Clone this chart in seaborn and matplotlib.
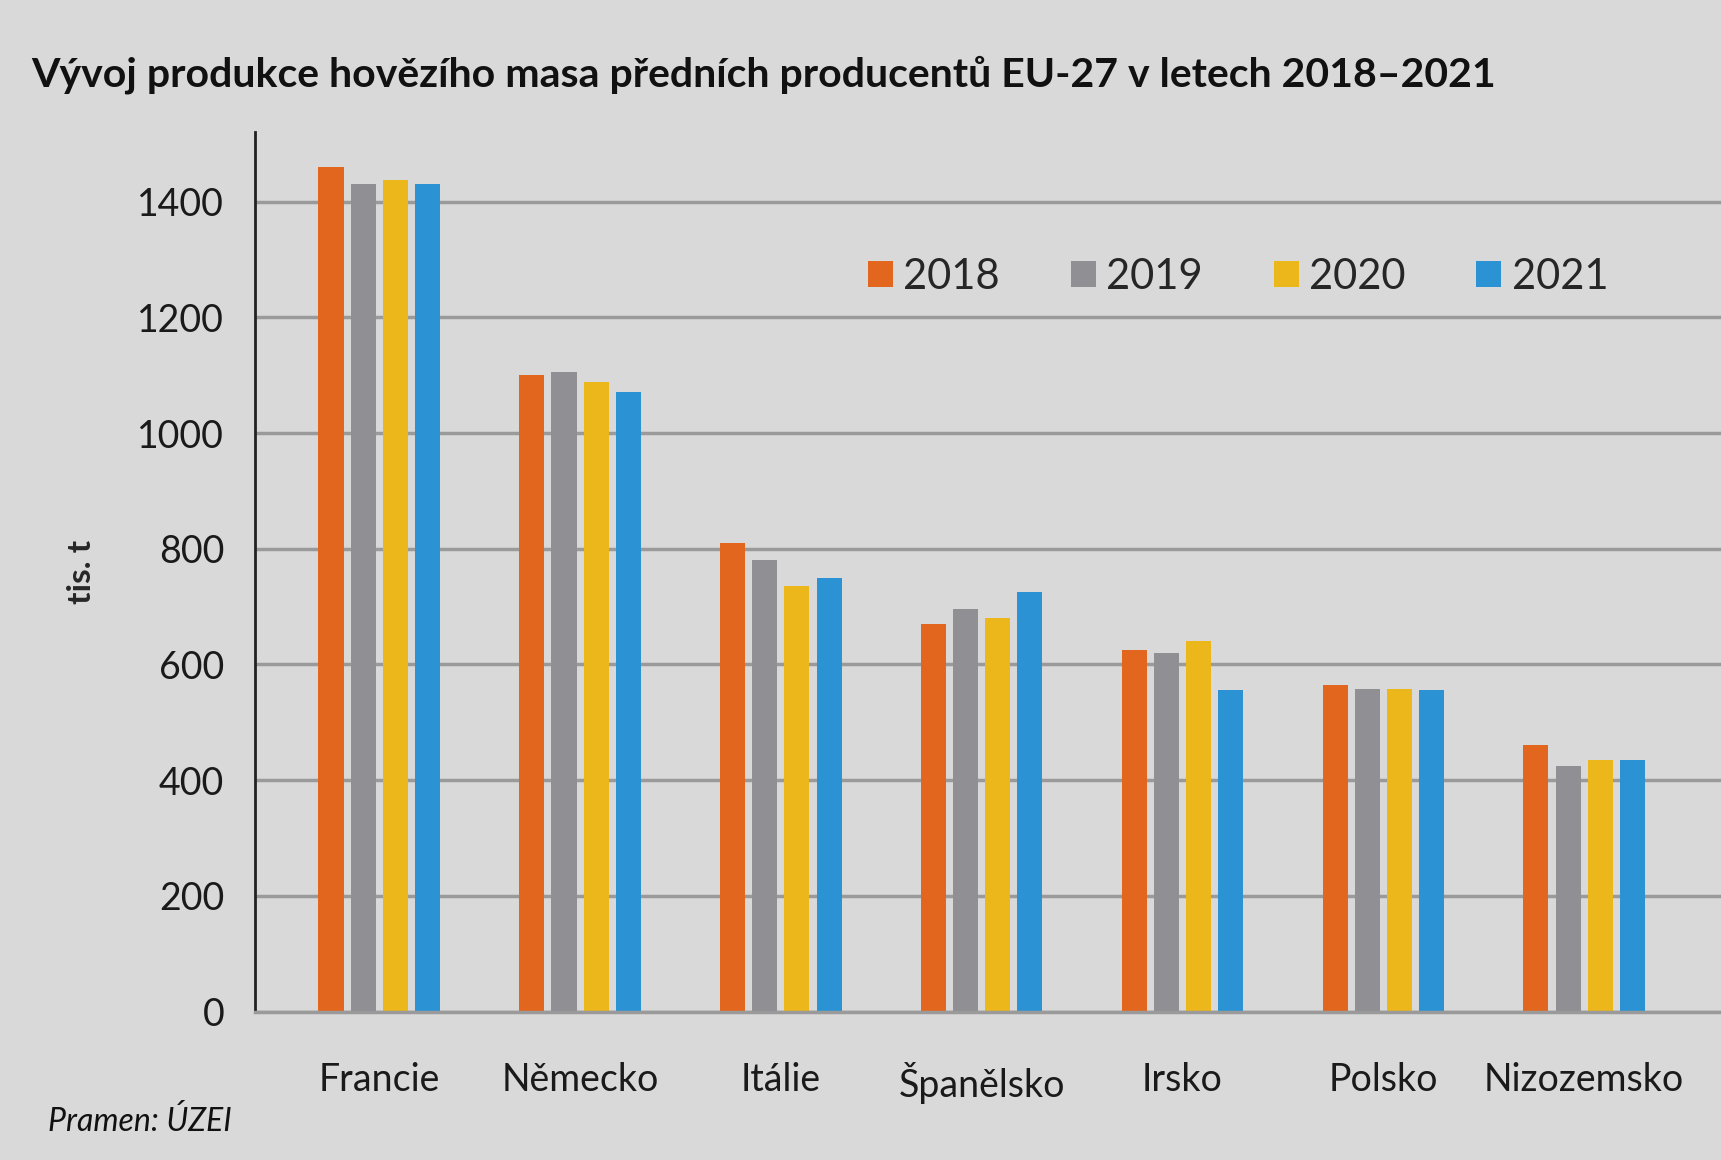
import matplotlib.pyplot as plt
import pandas as pd
import seaborn as sns

# data (tis. t)
zeme = ['Francie', 'Německo', 'Itálie', 'Španělsko', 'Irsko', 'Polsko', 'Nizozemsko']
roky = ['2018', '2019', '2020', '2021']
p2018 = [1460, 1100, 810, 670, 625, 565, 460]
p2019 = [1430, 1105, 780, 695, 620, 558, 425]
p2020 = [1438, 1088, 735, 680, 640, 558, 435]
p2021 = [1430, 1071, 750, 725, 555, 555, 435]
barvy = ['#e2661d', '#8f8f94', '#ecb71b', '#2b93d4']

df = pd.DataFrame({'zeme': zeme * 4,
                   'rok': sum([[r] * len(zeme) for r in roky], []),
                   'hodnota': p2018 + p2019 + p2020 + p2021})

sns.set_theme(style='white')
plt.rcParams['font.family'] = ['Lato', 'DejaVu Sans']

fig = plt.figure(figsize=(17.21, 11.6), dpi=100, facecolor='#d9d9d9')
ax = fig.add_axes([0.148, 0.128, 0.86, 0.758])
ax.set_facecolor('#d9d9d9')

sns.barplot(data=df, x='zeme', y='hodnota', hue='rok', palette=barvy,
            width=0.64, gap=0.22, ax=ax, saturation=1, linewidth=0)

ax.set_ylim(0, 1520)
ax.set_xlim(-0.62, 6.75)
ax.set_yticks(range(0, 1401, 200))
ax.yaxis.grid(True, color='#9a9a9a', linewidth=2.5)
ax.set_axisbelow(True)
for s in ['top', 'right']:
    ax.spines[s].set_visible(False)
ax.spines['left'].set_color('#222222')
ax.spines['left'].set_linewidth(2)
ax.spines['bottom'].set_color('#9a9a9a')
ax.spines['bottom'].set_linewidth(2.5)
ax.tick_params(axis='y', labelsize=27, pad=22, length=0, colors='#1a1a1a')
ax.tick_params(axis='x', labelsize=27, pad=36, length=0, colors='#1a1a1a')
ax.set_xlabel('')
ax.set_ylabel('tis. t', fontsize=24, fontweight='bold', labelpad=30)

ax.legend(loc='upper right', bbox_to_anchor=(0.94, 0.9), ncol=4, frameon=False,
          fontsize=30, handlelength=0.6, handleheight=0.6, handletextpad=0.25,
          columnspacing=1.7)

fig.text(0.018, 0.925, 'Vývoj produkce hovězího masa předních producentů EU-27 v letech 2018–2021',
         fontsize=29.5, fontweight='bold', color='#111111')
fig.text(0.028, 0.025, 'Pramen: ÚZEI', fontsize=23, style='italic', color='#111111')

plt.savefig('out.png', dpi=100, facecolor=fig.get_facecolor())
plt.close()
